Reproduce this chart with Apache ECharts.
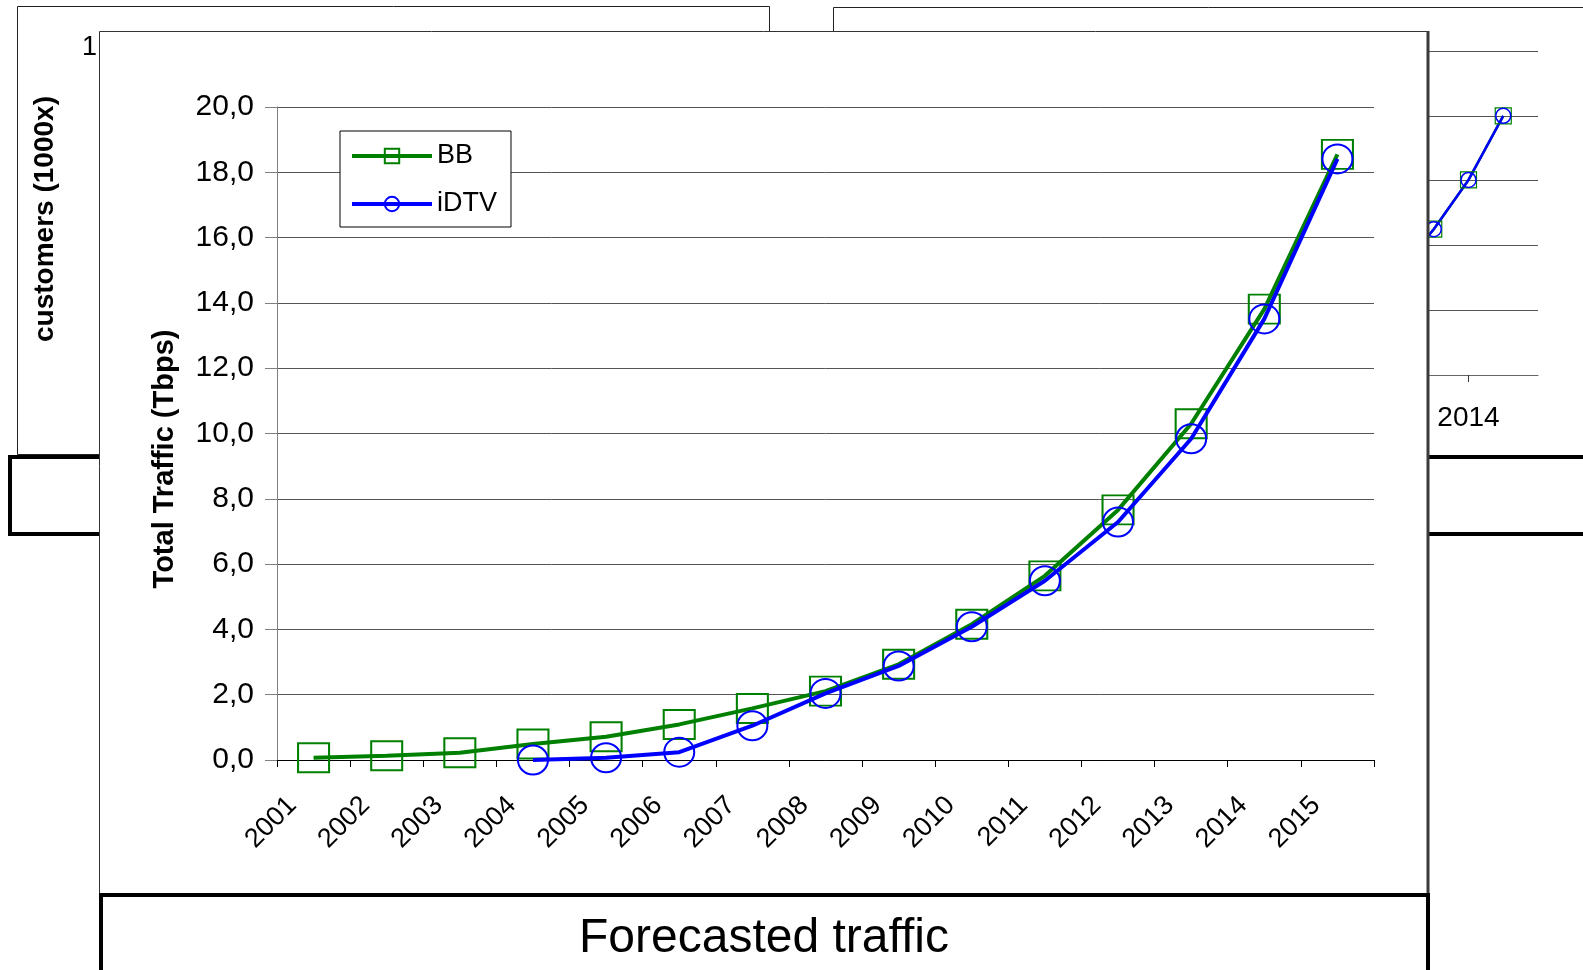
<!DOCTYPE html>
<html>
<head>
<meta charset="utf-8">
<title>Forecasted traffic</title>
<script src="https://cdn.jsdelivr.net/npm/echarts@6/dist/echarts.min.js"></script>
<style>
  html, body { margin: 0; padding: 0; background: #fff; }
  #chart { width: 1583px; height: 970px; }
</style>
</head>
<body>
<div id="chart"></div>
<script>
// Forecast years and total traffic (Tbps) per service
const years = ['2001', '2002', '2003', '2004', '2005', '2006', '2007', '2008',
               '2009', '2010', '2011', '2012', '2013', '2014', '2015'];
const bbTraffic = [0.07, 0.13, 0.22, 0.49, 0.71, 1.09, 1.58, 2.11,
                   2.93, 4.16, 5.64, 7.66, 10.30, 13.81, 18.55];
const idtvTraffic = [null, null, null, 0.00, 0.07, 0.24, 1.05, 2.04,
                     2.88, 4.08, 5.49, 7.29, 9.84, 13.51, 18.41];
const trafficTicks = ['0,0', '2,0', '4,0', '6,0', '8,0', '10,0',
                      '12,0', '14,0', '16,0', '18,0', '20,0'];

// Customer chart behind the traffic chart (mostly covered)
const customerYears = [2012, 2013, 2014, 2015];
const bbCustomers = [160, 225, 301, 400];
const idtvCustomers = [160, 225, 301, 400];
const customerTickYears = [2014];

const FONT = '"Liberation Sans", Arial, Helvetica, sans-serif';
const GREEN = '#008000';
const BLUE = '#0000ff';

const chart = echarts.init(document.getElementById('chart'), null, { renderer: 'canvas' });

const pairs = (xs, ys) => xs.map((x, i) => [x, ys[i]]);

const option = {
  animation: false,
  backgroundColor: '#ffffff',
  textStyle: { fontFamily: FONT },
  grid: [
    { left: 277, top: 107, width: 1097, height: 653, zlevel: 1, z: 1 },
    { left: 1399, top: 51, width: 139, height: 324, zlevel: 0 }
  ],
  legend: {
    data: ['BB', 'iDTV'],
    orient: 'vertical',
    left: 340,
    top: 131,
    padding: [10, 14, 8, 10],
    itemWidth: 80,
    itemHeight: 18,
    itemGap: 18,
    backgroundColor: '#ffffff',
    borderColor: '#000000',
    borderWidth: 1,
    borderRadius: 0,
    selectedMode: false,
    lineStyle: { width: 4 },
    itemStyle: { borderWidth: 2 },
    textStyle: { fontFamily: FONT, fontSize: 27, lineHeight: 30, color: '#000' },
    zlevel: 1,
    z: 10
  },
  xAxis: [
    {
      type: 'category',
      gridIndex: 0,
      data: years,
      boundaryGap: true,
      zlevel: 1,
      z: 2,
      axisLine: { show: true, lineStyle: { color: '#000', width: 1 } },
      axisTick: { show: true, interval: 0, length: 7, lineStyle: { color: '#000' } },
      axisLabel: {
        interval: 0, rotate: 45, margin: 20, padding: [0, 30, 0, 0],
        fontFamily: FONT, fontSize: 27, color: '#000'
      },
      splitLine: { show: false }
    },
    {
      type: 'value',
      gridIndex: 1,
      min: 2012,
      max: 2016,
      zlevel: 0,
      axisLine: { show: true, lineStyle: { color: '#666', width: 1 } },
      axisTick: { show: true, customValues: customerTickYears, length: 7, lineStyle: { color: '#333' } },
      axisLabel: {
        customValues: customerTickYears, margin: 29,
        fontFamily: FONT, fontSize: 28, color: '#000',
        formatter: v => String(v)
      },
      splitLine: { show: false }
    }
  ],
  yAxis: [
    {
      type: 'value',
      gridIndex: 0,
      min: 0,
      max: 20,
      interval: 2,
      zlevel: 1,
      z: 2,
      axisLine: { show: true, lineStyle: { color: '#808080', width: 1 } },
      axisTick: { show: true, length: 12, lineStyle: { color: '#808080' } },
      axisLabel: {
        margin: 23, fontFamily: FONT, fontSize: 30, color: '#000',
        formatter: v => trafficTicks[Math.round(v / 2)]
      },
      splitLine: { show: true, lineStyle: { color: '#555', width: 1 } }
    },
    {
      type: 'value',
      gridIndex: 1,
      min: 0,
      max: 500,
      interval: 100,
      zlevel: 0,
      axisLine: { show: false },
      axisTick: { show: false },
      axisLabel: { show: false },
      splitLine: { show: true, lineStyle: { color: '#555', width: 1 } }
    }
  ],
  series: [
    {
      name: 'BB customers',
      type: 'line',
      xAxisIndex: 1,
      yAxisIndex: 1,
      zlevel: 0,
      data: pairs(customerYears, bbCustomers),
      symbol: 'rect',
      symbolSize: 16,
      itemStyle: { color: 'rgba(0,0,0,0)', borderColor: GREEN, borderWidth: 1.2 },
      lineStyle: { color: GREEN, width: 2.5 }
    },
    {
      name: 'iDTV customers',
      type: 'line',
      xAxisIndex: 1,
      yAxisIndex: 1,
      zlevel: 0,
      data: pairs(customerYears, idtvCustomers),
      symbol: 'circle',
      symbolSize: 15,
      itemStyle: { color: 'rgba(0,0,0,0)', borderColor: BLUE, borderWidth: 1.5 },
      lineStyle: { color: BLUE, width: 2.5 }
    },
    {
      name: 'BB',
      type: 'line',
      xAxisIndex: 0,
      yAxisIndex: 0,
      zlevel: 1,
      z: 3,
      data: bbTraffic,
      symbol: 'rect',
      symbolSize: [31, 29],
      showAllSymbol: true,
      itemStyle: { color: 'rgba(0,0,0,0)', borderColor: GREEN, borderWidth: 2 },
      lineStyle: { color: GREEN, width: 4 }
    },
    {
      name: 'iDTV',
      type: 'line',
      xAxisIndex: 0,
      yAxisIndex: 0,
      zlevel: 1,
      z: 4,
      data: idtvTraffic,
      connectNulls: false,
      symbol: 'circle',
      symbolSize: [30, 29],
      showAllSymbol: true,
      itemStyle: { color: 'rgba(0,0,0,0)', borderColor: BLUE, borderWidth: 2 },
      lineStyle: { color: BLUE, width: 4 }
    }
  ],
  graphic: {
    elements: [
      // panels lying underneath
      {
        type: 'rect', zlevel: 0, z: 0,
        shape: { x: 17.5, y: 6.5, width: 752, height: 448 },
        style: { fill: '#fff', stroke: '#222', lineWidth: 1 }
      },
      {
        type: 'rect', zlevel: 0, z: 0,
        shape: { x: 833.5, y: 7.5, width: 1200, height: 2000 },
        style: { fill: 'none', stroke: '#222', lineWidth: 1 }
      },
      {
        type: 'rect', zlevel: 0, z: 1,
        shape: { x: 10, y: 457, width: 200, height: 77 },
        style: { fill: '#fff', stroke: '#000', lineWidth: 4 }
      },
      {
        type: 'rect', zlevel: 0, z: 1,
        shape: { x: 1300, y: 457, width: 400, height: 77 },
        style: { fill: '#fff', stroke: '#000', lineWidth: 4 }
      },
      {
        type: 'text', zlevel: 0, z: 2,
        x: 45, y: 219, rotation: Math.PI / 2,
        style: {
          text: 'customers (1000x)', fill: '#000',
          fontFamily: FONT, fontSize: 28, fontWeight: 'bold',
          align: 'center', verticalAlign: 'middle',
          textAlign: 'center', textVerticalAlign: 'middle'
        }
      },
      {
        type: 'text', zlevel: 0, z: 2,
        x: 82, y: 48,
        style: {
          text: '1', fill: '#000', fontFamily: FONT, fontSize: 27,
          align: 'left', verticalAlign: 'middle',
          textAlign: 'left', textVerticalAlign: 'middle'
        }
      },
      // traffic chart panel
      {
        type: 'rect', zlevel: 1, z: 0,
        shape: { x: 99.5, y: 31.5, width: 1328, height: 870 },
        style: { fill: '#fff', stroke: '#333', lineWidth: 1 }
      },
      {
        type: 'line', zlevel: 1, z: 0,
        shape: { x1: 1428, y1: 31, x2: 1428, y2: 895 },
        style: { stroke: '#3a3a3a', lineWidth: 3 }
      },
      {
        type: 'rect', zlevel: 1, z: 1,
        shape: { x: 101, y: 895, width: 1327, height: 100 },
        style: { fill: '#fff', stroke: '#000', lineWidth: 4 }
      },
      {
        type: 'text', zlevel: 1, z: 5,
        x: 764, y: 939,
        style: {
          text: 'Forecasted traffic', fill: '#000',
          fontFamily: FONT, fontSize: 48,
          align: 'center', verticalAlign: 'middle',
          textAlign: 'center', textVerticalAlign: 'middle'
        }
      },
      {
        type: 'text', zlevel: 1, z: 5,
        x: 165, y: 459, rotation: Math.PI / 2,
        style: {
          text: 'Total Traffic (Tbps)', fill: '#000',
          fontFamily: FONT, fontSize: 29, fontWeight: 'bold',
          align: 'center', verticalAlign: 'middle',
          textAlign: 'center', textVerticalAlign: 'middle'
        }
      }
    ]
  }
};

chart.setOption(option);
</script>
</body>
</html>
